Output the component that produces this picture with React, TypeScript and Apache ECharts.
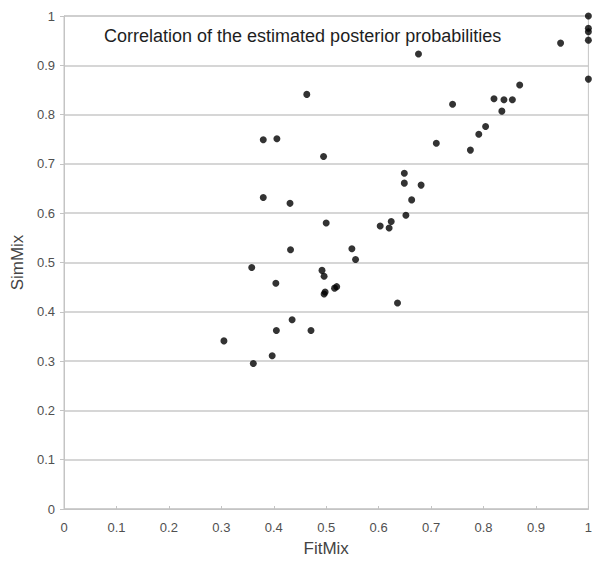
import React, { useEffect, useRef } from "react";
import * as echarts from "echarts";

const fitMix = [
  1.0, 1.0, 1.0, 1.0, 1.0, 0.947, 0.676, 0.869, 0.82, 0.839,
  0.855, 0.835, 0.741, 0.804, 0.791, 0.71, 0.775, 0.649, 0.649, 0.681,
  0.663, 0.652, 0.603, 0.624, 0.62, 0.636, 0.463, 0.38, 0.406, 0.495,
  0.38, 0.431, 0.5, 0.432, 0.549, 0.556, 0.358, 0.492, 0.496, 0.404,
  0.496, 0.498, 0.516, 0.52, 0.435, 0.405, 0.471, 0.305, 0.397, 0.361,
];
const simMix = [
  1.0, 0.975, 0.968, 0.951, 0.872, 0.945, 0.923, 0.86, 0.832, 0.83,
  0.83, 0.807, 0.821, 0.776, 0.76, 0.742, 0.728, 0.681, 0.661, 0.657,
  0.627, 0.596, 0.574, 0.583, 0.57, 0.418, 0.841, 0.749, 0.751, 0.715,
  0.632, 0.62, 0.58, 0.526, 0.528, 0.506, 0.49, 0.484, 0.472, 0.458,
  0.436, 0.44, 0.448, 0.451, 0.384, 0.362, 0.362, 0.341, 0.311, 0.295,
];

const titleText = "Correlation of the estimated posterior probabilities";
const xName = "FitMix";
const yName = "SimMix";

const fmt = (v: number) => String(Number(v.toFixed(1)));

export default function App() {
  const ref = useRef<HTMLDivElement>(null);
  useEffect(() => {
    if (!ref.current) return;
    const chart = echarts.init(ref.current, undefined, { renderer: "svg" });
    const data = fitMix.map((x, i) => [x, simMix[i]]);
    chart.setOption({
      animation: false,
      backgroundColor: "#ffffff",
      textStyle: { fontFamily: "Liberation Sans" },
      title: {
        text: titleText,
        left: 104,
        top: 27,
        padding: 0,
        textStyle: {
          fontFamily: "Liberation Sans",
          fontSize: 18,
          fontWeight: "normal",
          color: "#1e1e1e",
        },
      },
      grid: {
        left: 64,
        right: 2,
        top: 16,
        bottom: 53,
        show: true,
        borderColor: "#c4c4c4",
        borderWidth: 1,
      },
      xAxis: {
        type: "value",
        min: 0,
        max: 1,
        interval: 0.1,
        name: xName,
        nameLocation: "middle",
        nameGap: 31,
        nameTextStyle: { fontSize: 17, color: "#444444", fontFamily: "Liberation Sans" },
        axisLine: { show: true, lineStyle: { color: "#c4c4c4", width: 1 } },
        axisTick: { show: true, inside: true, length: 3, lineStyle: { color: "#c4c4c4" } },
        axisLabel: {
          formatter: fmt,
          color: "#505050",
          fontSize: 13,
          margin: 12,
          fontFamily: "Liberation Sans",
        },
        splitLine: { show: false },
      },
      yAxis: {
        type: "value",
        min: 0,
        max: 1,
        interval: 0.1,
        name: yName,
        nameLocation: "middle",
        nameGap: 36,
        nameTextStyle: { fontSize: 17, color: "#444444", fontFamily: "Liberation Sans" },
        axisLine: { show: true, lineStyle: { color: "#c4c4c4", width: 1 } },
        axisTick: { show: true, length: 4, lineStyle: { color: "#c4c4c4" } },
        axisLabel: {
          formatter: fmt,
          color: "#505050",
          fontSize: 13,
          margin: 9,
          fontFamily: "Liberation Sans",
        },
        splitLine: { show: true, lineStyle: { color: "#c8c8c8", width: 1.5 } },
      },
      series: [
        {
          type: "scatter",
          data,
          symbol: "circle",
          symbolSize: 7,
          clip: false,
          itemStyle: { color: "#000000" },
        },
      ],
    });
    return () => chart.dispose();
  }, []);
  return (
    <div
      ref={ref}
      style={{ position: "fixed", left: 0, top: 0, width: 595, height: 562, background: "#fff" }}
    />
  );
}
